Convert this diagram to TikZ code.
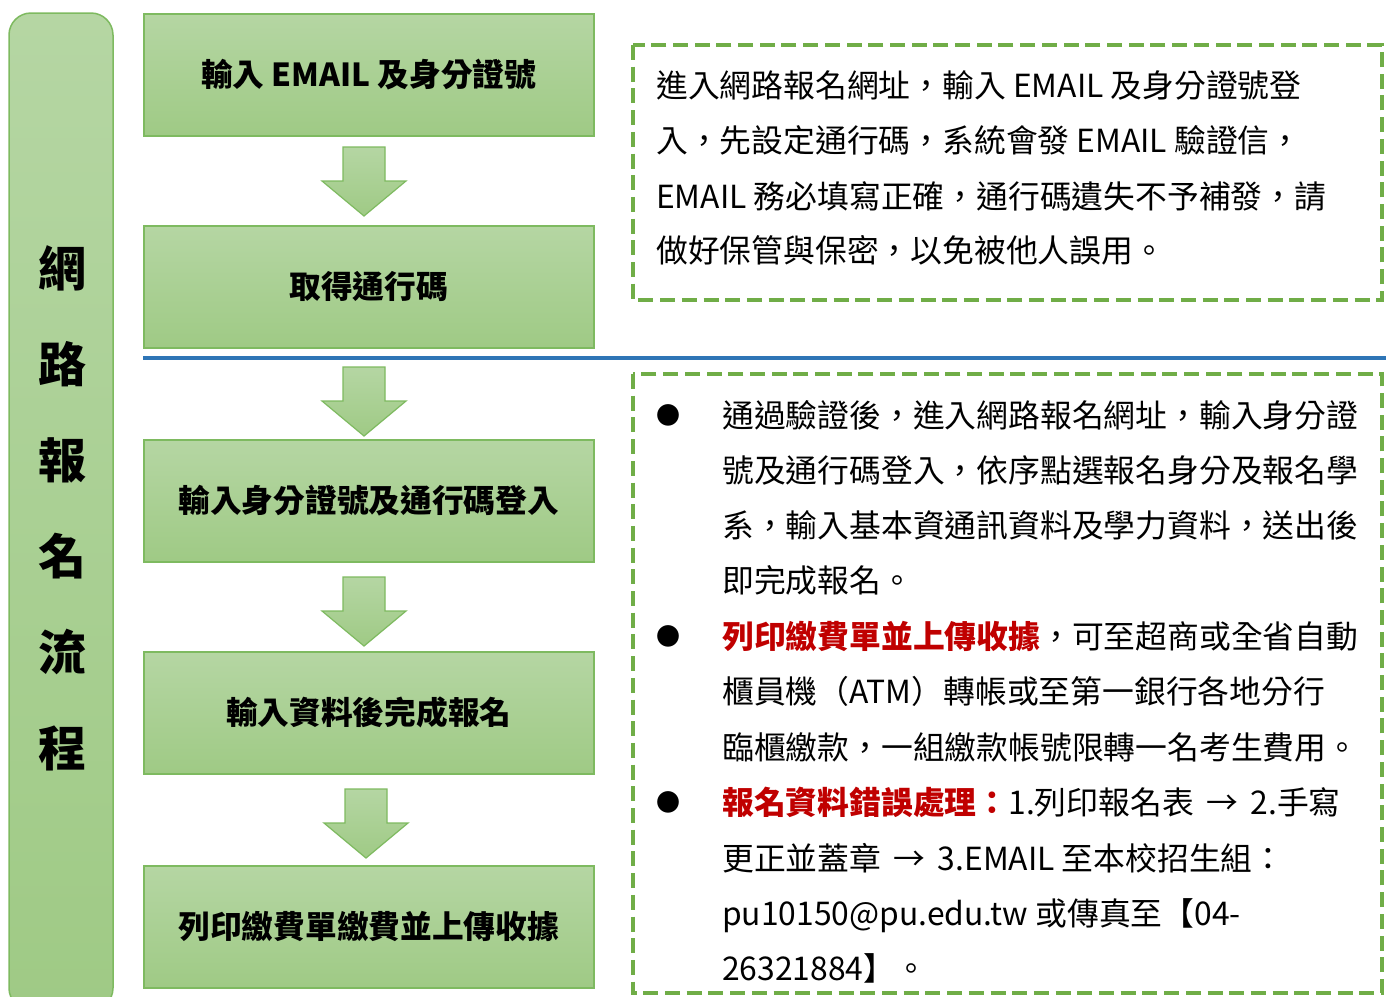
\documentclass[tikz,border=0pt]{standalone}
\usepackage{fontspec}
\setmainfont{Noto Sans CJK TC}[Script=CJK,Language=Chinese Traditional]
\definecolor{gtop}{HTML}{B5D6A3}
\definecolor{gbot}{HTML}{9FCA85}
\definecolor{gline}{HTML}{7EBA60}
\definecolor{dashg}{HTML}{70AD47}
\definecolor{blueline}{HTML}{2E75B6}
\definecolor{redtxt}{HTML}{C00000}
\newcommand\greenarrow[3]{% name, center x, top y
  \path[top color=gtop,bottom color=gbot,draw=gline,line width=1.2bp]
    (#2-21,#3) -- (#2+21,#3) -- (#2+21,#3+34) -- (#2+42,#3+34)
    -- (#2,#3+69) coordinate (#1) -- (#2-42,#3+34) -- (#2-21,#3+34) -- cycle;}
\begin{document}
\begin{tikzpicture}[x=1bp,y=-1bp,
  stepbox/.style={top color=gtop,bottom color=gbot,draw=gline,line width=1.5bp,
    minimum width=450bp,minimum height=122bp,inner sep=0pt,anchor=north west,
    font=\fontsize{31.7bp}{38bp}\selectfont\bfseries},
  txt/.style={anchor=base west,inner sep=0pt,font=\fontsize{31.8bp}{38bp}\selectfont},
  bul/.style={anchor=center,inner sep=0pt,font=\fontsize{24bp}{30bp}\selectfont},
  dbox/.style={draw=dashg,line width=4bp,dash pattern=on 15bp off 6.7bp},
  red/.style={text=redtxt}
]
\useasboundingbox (0,0) rectangle (1386,996);
\fill[white] (0,0) rectangle (1386,996);
% left bar
\path[top color=gtop,bottom color=gbot,draw=gline,line width=1.5bp,rounded corners=22bp]
  (9,13) rectangle (113,1010);
\foreach \c [count=\i from 0] in {網,路,報,名,流,程}{
  \node[font=\fontsize{48bp}{52bp}\selectfont\bfseries,inner sep=0pt] (bar\i) at (62,268+96*\i) {\c};
}
% step boxes
\node[stepbox] (b1) at (143,13) {};
\node at (b1.center) [font=\fontsize{31.7bp}{38bp}\selectfont\bfseries] {輸入 EMAIL 及身分證號};
\node[stepbox] (b2) at (143,225) {};
\node at (b2.center) [font=\fontsize{31.7bp}{38bp}\selectfont\bfseries] {取得通行碼};
\node[stepbox] (b3) at (143,439) {};
\node at (b3.center) [font=\fontsize{31.7bp}{38bp}\selectfont\bfseries] {輸入身分證號及通行碼登入};
\node[stepbox] (b4) at (143,651) {};
\node at (b4.center) [font=\fontsize{31.7bp}{38bp}\selectfont\bfseries] {輸入資料後完成報名};
\node[stepbox] (b5) at (143,865) {};
\node at (b5.center) [font=\fontsize{31.7bp}{38bp}\selectfont\bfseries] {列印繳費單繳費並上傳收據};
% arrows
\greenarrow{a1}{364}{147}
\greenarrow{a2}{364}{367}
\greenarrow{a3}{364}{577}
\greenarrow{a4}{366}{789}
% blue divider
\coordinate (bl1) at (143,358);
\coordinate (bl2) at (1386,358);
\draw[blueline,line width=3.5bp] (bl1) -- (bl2);
% dashed boxes
\draw[dbox] (633,45) rectangle (1382,300);
\draw[dbox] (633,374) rectangle (1382,993);
% box 1 text
\node[txt] (t1) at (656,97) {進入網路報名網址，輸入 EMAIL 及身分證號登};
\node[txt] (t2) at (656,152) {入，先設定通行碼，系統會發 EMAIL 驗證信，};
\node[txt] (t3) at (656,208) {EMAIL 務必填寫正確，通行碼遺失不予補發，請};
\node[txt] (t4) at (656,262) {做好保管與保密，以免被他人誤用。};
% box 2 text
\node[bul] (u1) at (668,415) {●};
\node[bul] (u2) at (668,636) {●};
\node[bul] (u3) at (668,802) {●};
\node[txt] (s1) at (722,427) {通過驗證後，進入網路報名網址，輸入身分證};
\node[txt] (s2) at (722,482) {號及通行碼登入，依序點選報名身分及報名學};
\node[txt] (s3) at (722,537) {系，輸入基本資通訊資料及學力資料，送出後};
\node[txt] (s4) at (722,592) {即完成報名。};
\node[txt] (s5) at (722,648) {{\color{redtxt}\bfseries 列印繳費單並上傳收據}，可至超商或全省自動};
\node[txt] (s6) at (722,703) {櫃員機（ATM）轉帳或至第一銀行各地分行};
\node[txt] (s7) at (722,759) {臨櫃繳款，一組繳款帳號限轉一名考生費用。};
\node[txt] (s8) at (722,814) {{\color{redtxt}\bfseries 報名資料錯誤處理：}1.列印報名表 \,→\, 2.手寫};
\node[txt] (s9) at (722,870) {更正並蓋章 \,→\, 3.EMAIL 至本校招生組：};
\node[txt] (s10) at (722,925) {pu10150@pu.edu.tw 或傳真至【04-};
\node[txt] (s11) at (722,980) {26321884】。};
\end{tikzpicture}
\end{document}
